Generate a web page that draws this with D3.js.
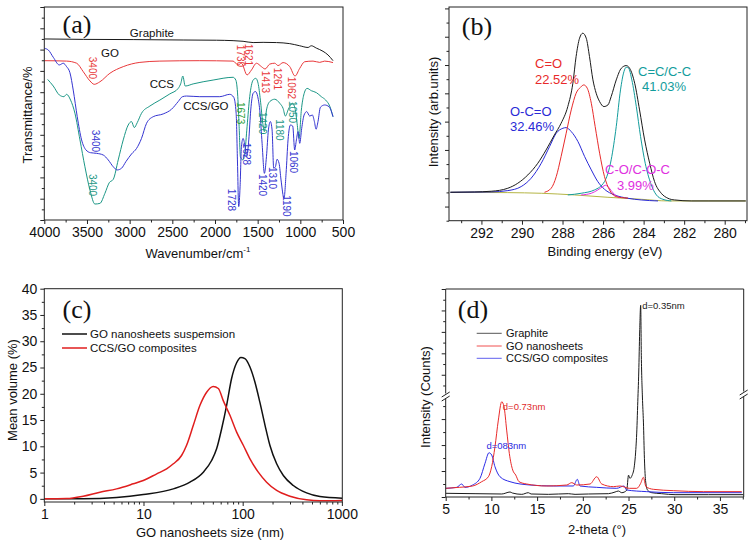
<!DOCTYPE html>
<html><head><meta charset="utf-8">
<script src="https://cdn.jsdelivr.net/npm/d3@7"></script>
<style>
body{margin:0;background:#fff}
svg{display:block}
</style>
</head><body>
<svg id="chart" width="750" height="544"></svg>
<script>
// ---------------- DATA ----------------
// (a) FTIR: [wavenumber cm-1, transmittance (offset, a.u.)]
const ftirGraphite = [[4000,85.0],[3543,84.8],[2958,84.7],[2373,84.5],[1983,84.4],[1788,84.2],[1671,83.9],[1553,83.3],[1436,83.4],[1280,83.3],[1124,82.8],[1007,81.8],[910,81.0],[871,81.8],[812,80.7],[734,79.2],[676,77.5],[617,74.8]];
const ftirGO = [[4000,74.8],[3739,74.6],[3621,73.6],[3543,69.6],[3465,65.3],[3415,63.7],[3348,64.9],[3231,68.9],[3075,72.0],[2880,74.0],[2646,74.6],[2178,74.8],[1788,74.6],[1729,72.8],[1690,73.6],[1624,68.1],[1573,70.4],[1514,73.6],[1456,72.0],[1413,70.9],[1358,73.2],[1300,73.6],[1261,72.5],[1202,73.9],[1124,72.0],[1062,67.6],[1007,71.2],[949,74.3],[851,74.6],[773,74.0],[715,74.6],[617,73.9]];
const ftirCCS = [[3961,66.0],[3895,62.9],[3824,58.7],[3770,57.9],[3739,59.0],[3692,56.3],[3641,50.1],[3582,37.6],[3524,25.0],[3465,14.1],[3407,7.5],[3348,7.8],[3290,12.5],[3239,17.5],[3192,19.1],[3134,28.2],[3075,37.6],[3017,44.6],[2978,46.2],[2946,43.4],[2911,45.7],[2861,50.1],[2763,53.5],[2646,56.3],[2529,59.2],[2431,61.8],[2400,64.2],[2377,67.6],[2349,62.9],[2256,63.9],[2022,65.7],[1788,67.0],[1756,65.7],[1733,57.9],[1717,43.8],[1702,29.7],[1674,28.2],[1651,31.3],[1624,43.8],[1593,57.9],[1553,65.7],[1522,66.5],[1495,64.2],[1468,56.3],[1440,45.4],[1421,41.5],[1397,51.6],[1358,55.6],[1300,56.7],[1241,54.8],[1202,52.4],[1175,48.8],[1140,52.0],[1093,54.8],[1062,52.4],[1038,45.4],[1015,38.3],[988,51.6],[960,58.7],[921,61.8],[871,60.7],[812,59.8],[754,57.9],[703,56.3],[656,53.5],[617,48.5]];
const ftirCCSGO = [[4000,80.6],[3953,79.8],[3895,76.4],[3824,72.8],[3778,73.6],[3739,72.0],[3700,69.2],[3661,61.0],[3614,48.5],[3563,37.6],[3512,32.9],[3458,31.6],[3387,31.3],[3309,30.5],[3251,28.2],[3192,25.0],[3145,23.5],[3095,24.3],[3044,27.4],[2978,31.0],[2919,33.6],[2861,38.3],[2802,45.4],[2724,48.5],[2607,49.8],[2509,52.0],[2431,55.6],[2381,57.9],[2334,58.2],[2178,57.9],[1944,57.9],[1827,59.0],[1780,57.6],[1752,50.1],[1737,28.2],[1722,6.3],[1706,15.6],[1690,34.4],[1671,38.3],[1647,34.4],[1628,29.7],[1604,37.6],[1581,51.6],[1553,59.5],[1526,60.3],[1499,57.9],[1472,50.1],[1448,36.0],[1421,21.9],[1397,29.7],[1374,42.3],[1351,46.2],[1331,42.3],[1312,24.3],[1292,25.0],[1273,28.5],[1249,26.6],[1226,18.8],[1191,10.2],[1167,21.9],[1144,37.6],[1116,44.6],[1089,44.1],[1066,32.9],[1046,37.6],[1027,41.5],[1007,36.0],[984,43.0],[956,49.3],[925,50.9],[890,48.8],[859,49.3],[835,46.2],[816,42.6],[793,46.2],[765,52.9],[715,54.0],[664,53.2],[617,48.5]];
const ftirSeriesNames = ["Graphite","GO","CCS","CCS/GO"];
const ftirNamePos = [[2739,87.8],[3231,78.4],[2622,63.8],[2107,53.5]];
// peak annotations: [text, wavenumber, transmittance, series]
const ftirPeakLabels = [
  ["3400",3430,71.4,"GO"],["1730",1697,77.0,"GO"],["1621",1603,77.5,"GO"],["1413",1404,64.8,"GO"],["1261",1263,66.2,"GO"],["1062",1099,62.0,"GO"],
  ["1673",1697,50.2,"green"],["1420",1439,45.5,"CCS"],["1180",1240,42.3,"CCS"],["1050",1088,50.7,"CCS"],["3400",3441,16.4,"CCS"],
  ["3400",3406,37.1,"CCS/GO"],["1628",1626,31.0,"CCS/GO"],["1728",1802,9.4,"CCS/GO"],["1420",1439,16.4,"CCS/GO"],["1310",1322,19.7,"CCS/GO"],["1190",1158,6.6,"CCS/GO"],["1060",1076,27.2,"CCS/GO"]
];
const ftirXTicks = [4000,3500,3000,2500,2000,1500,1000,500];

// (b) XPS C1s: [binding energy eV, intensity]
const xpsEnvelope = [[293.53,504],[292.35,516],[291.52,540],[290.70,646],[290.21,822],[289.71,1117],[289.22,1529],[288.81,2000],[288.40,2530],[288.07,2943],[287.74,3532],[287.49,4357],[287.33,5300],[287.16,5948],[287.00,6124],[286.83,5948],[286.67,5300],[286.50,4475],[286.34,4003],[286.17,3708],[285.96,3532],[285.76,3590],[285.60,3885],[285.35,4474],[285.10,4886],[284.86,4980],[284.69,4886],[284.44,4357],[284.20,3414],[283.95,2354],[283.70,1529],[283.46,881],[283.13,469],[282.80,292],[282.47,233],[281.65,198],[280.82,198],[278.96,198]];
const xpsCO = [[288.89,504],[288.56,646],[288.31,1058],[288.07,1767],[287.82,2591],[287.57,3414],[287.33,4003],[287.11,4215],[286.95,4297],[286.78,4180],[286.58,3650],[286.39,2826],[286.17,1885],[285.93,1058],[285.68,587],[285.43,375],[285.10,316],[284.77,300]];
const xpsOCO = [[293.53,504],[291.52,516],[290.70,563],[290.04,705],[289.55,999],[289.05,1529],[288.64,2118],[288.31,2591],[287.98,2766],[287.82,2789],[287.57,2648],[287.24,2297],[286.91,1767],[286.58,1295],[286.26,881],[285.93,610],[285.43,410],[284.77,292],[284.12,233],[283.29,198]];
const xpsCC = [[287.74,410],[287.08,469],[286.42,587],[285.93,881],[285.60,1649],[285.35,2826],[285.14,4121],[284.97,4768],[284.86,4921],[284.74,4886],[284.58,4474],[284.36,3532],[284.15,2471],[283.92,1529],[283.65,822],[283.37,410],[283.05,257],[282.63,198]];
const xpsCOC = [[287.08,410],[286.58,469],[286.26,587],[286.01,705],[285.89,752],[285.76,705],[285.56,528],[285.35,375],[285.10,316]];
const xpsBackground = [[293.53,504],[290.70,492],[289.05,469],[287.41,410],[285.76,327],[284.12,257],[282.80,198],[278.96,198]];
const xpsComponentNames = ["C=O","C=C/C-C","O-C=O","C-O/C-O-C"];
const xpsComponentShares = ["22.52%","41.03%","32.46%","3.99%"];
const xpsXTicks = [292,290,288,286,284,282,280];

// (c) DLS: [size nm, mean volume %]
const dlsGO = [[1,0],[2.47,0.0],[5.36,0.25],[9.95,0.83],[19.96,1.90],[29.4,3.17],[40.1,5.08],[48.6,7.30],[54.6,9.52],[61.3,13.3],[68.9,17.8],[77.3,22.9],[86.9,25.9],[96.1,26.9],[105.4,26.7],[118.4,25.1],[133,22.2],[149,18.4],[168,14.0],[188,10.2],[220,6.67],[257,4.44],[324,2.54],[441,1.14],[601,0.44],[1009,0.13]];
const dlsCCSGO = [[1,0],[1.68,0.06],[2.47,0.51],[3.64,1.27],[5.36,1.90],[7.89,2.86],[9.95,3.49],[13.6,4.76],[17.1,5.71],[20,6.67],[24.2,8.25],[27.2,10.2],[31.8,14.0],[37.1,17.8],[43.3,20.3],[50.5,21.4],[56.8,21.0],[63.7,18.7],[74.4,15.9],[86.9,12.7],[101.4,10.2],[118.4,7.62],[143.6,5.08],[174.2,3.17],[220,1.59],[299.5,0.51],[441,-0.19],[601,-0.38],[1009,-0.32]];
const dlsLegend = ["GO nanosheets suspemsion","CCS/GO composites"];
const dlsXTicks = [1,10,100,1000];
const dlsYTicks = [0,5,10,15,20,25,30,35,40];

// (d) XRD: [2-theta deg, counts]
const xrdGraphite = [[5.0,71],[8.21,64],[11.13,58],[12.04,96],[12.29,77],[13.32,51],[14.04,83],[14.34,58],[16.23,51],[18.42,64],[19.15,51],[20.61,58],[22.80,64],[23.53,96],[23.89,115],[24.26,83],[24.80,128],[25.0,420],[25.15,360],[25.4,420],[25.64,600],[25.78,865],[25.93,1378],[26.00,1763],[26.12,4257],[26.22,7988],[26.33,10479],[26.40,5815],[26.52,1925],[26.63,1442],[26.74,737],[26.88,288],[27.10,128],[27.54,83],[28.63,64],[30.09,45],[33.74,45],[37.57,45]];
const xrdGO = [[5.0,167],[6.49,186],[7.95,212],[8.94,295],[9.67,390],[10.03,583],[10.39,967],[10.76,1481],[11.13,1833],[11.38,1737],[11.67,1288],[11.96,840],[12.33,519],[12.66,423],[13.02,295],[13.86,250],[16.05,212],[18.24,231],[18.79,276],[19.33,231],[20.79,250],[21.52,390],[22.07,250],[23.34,199],[24.07,212],[25.09,167],[25.90,167],[26.33,263],[26.62,379],[26.91,199],[27.71,148],[29.90,122],[33.18,103],[37.39,103]];
const xrdCCSGO = [[5.0,167],[6.20,186],[6.75,250],[7.11,186],[7.95,231],[8.75,359],[9.30,648],[9.74,852],[10.03,808],[10.39,583],[10.94,390],[12.03,295],[14.22,231],[16.77,212],[18.96,212],[19.40,340],[19.69,212],[21.52,186],[23.71,167],[24.51,212],[24.80,135],[26.99,103],[29.90,83],[37.39,83]];
const xrdLegend = ["Graphite","GO nanosheets","CCS/GO composites"];
// d-spacing annotations: [text, 2theta, counts]
const xrdPeakLabels = [["d=0.35nm",26.5,10150],["d=0.73nm",11.25,1680],["d=083nm",9.45,930]];
const xrdXTicks = [5,10,15,20,25,30,35];

// ---------------- DRAWING ----------------
const svg = d3.select("#chart");
const SANS = '"Liberation Sans",Arial,sans-serif';
const SERIF = '"Liberation Serif","Times New Roman",serif';
const AX = "#222";
const TICKFS = 14, TITLEFS = 13;

function frame(x0,y0,x1,y1){
  svg.append("rect").attr("x",x0).attr("y",y0).attr("width",x1-x0).attr("height",y1-y0)
    .attr("fill","none").attr("stroke",AX).attr("stroke-width",1);
}
function clip(id,x0,y0,x1,y1){
  svg.append("clipPath").attr("id",id).append("rect").attr("x",x0).attr("y",y0).attr("width",x1-x0).attr("height",y1-y0);
}
function styleAxis(g){
  g.select(".domain").remove();
  g.selectAll("line").attr("stroke",AX);
  g.selectAll("text").style("font-family",SANS).attr("font-size",TICKFS).attr("fill","#111");
}
function xAxis(scale,y,major,minor,fmt,len){
  const g=svg.append("g").attr("transform",`translate(0,${y})`)
    .call(d3.axisBottom(scale).tickValues(major).tickSize(len||4).tickPadding(3).tickFormat(fmt||(d=>d)));
  styleAxis(g);
  if(minor){const m=svg.append("g").attr("transform",`translate(0,${y})`).call(d3.axisBottom(scale).tickValues(minor).tickSize(2.5).tickFormat(""));styleAxis(m);}
  return g;
}
function yAxis(scale,x,major,minor,fmt){
  const g=svg.append("g").attr("transform",`translate(${x},0)`)
    .call(d3.axisLeft(scale).tickValues(major).tickSize(4).tickPadding(3).tickFormat(fmt===undefined?(d=>d):fmt));
  styleAxis(g);
  if(minor){const m=svg.append("g").attr("transform",`translate(${x},0)`).call(d3.axisLeft(scale).tickValues(minor).tickSize(2.5).tickFormat(""));styleAxis(m);}
  return g;
}
function path(data,x,y,color,w,clipId){
  svg.append("path").datum(data).attr("fill","none").attr("stroke",color).attr("stroke-width",w||1)
    .attr("stroke-linejoin","round").attr("clip-path",clipId?`url(#${clipId})`:null)
    .attr("d",d3.line().x(d=>x(d[0])).y(d=>y(d[1])).curve(d3.curveMonotoneX));
}
function txt(x,y,s,opt){
  opt=opt||{};
  const t=svg.append("text").attr("x",x).attr("y",y).text(s)
    .attr("font-size",opt.fs||TITLEFS).attr("fill",opt.color||"#111")
    .attr("text-anchor",opt.anchor||"middle")
    .style("font-family",opt.family||SANS);
  if(opt.rot!==undefined) t.attr("transform",`rotate(${opt.rot},${x},${y})`);
  if(opt.dy) t.attr("dy",opt.dy);
  return t;
}

// ===== Panel (a) =====
{
  const x=d3.scaleLinear().domain([4000,500]).range([44.3,343]);
  const y=d3.scaleLinear().domain([0,100]).range([220,7]);
  clip("ca",44.3,7,343,220);
  const col={"Graphite":"#1a1a1a","GO":"#e8383a","CCS":"#1b9685","CCS/GO":"#3434d0","green":"#2ea03a"};
  path(ftirGraphite,x,y,col["Graphite"],1,"ca");
  path(ftirGO,x,y,col["GO"],1,"ca");
  path(ftirCCS,x,y,col["CCS"],1,"ca");
  path(ftirCCSGO,x,y,col["CCS/GO"],1,"ca");
  frame(44.3,7,343,220);
  xAxis(x,220,ftirXTicks,d3.range(750,4000,500));
  yAxis(y,44.3,d3.range(0,101,10),d3.range(5,100,10),"");
  ftirSeriesNames.forEach((n,i)=>txt(x(ftirNamePos[i][0]),y(ftirNamePos[i][1]),n,{fs:11.5,dy:"0.35em"}));
  ftirPeakLabels.forEach(p=>txt(x(p[1]),y(p[2]),p[0],{fs:10,color:col[p[3]],rot:90,dy:"0.35em"}));
  txt(77,33,"(a)",{fs:26,family:SERIF});
  const t=txt(198,258,"Wavenumber/cm",{fs:TITLEFS});
  t.append("tspan").attr("font-size",8).attr("dy",-6).text("-1");
  txt(27,115,"Transmittance/%",{fs:TITLEFS,rot:-90,dy:"0.35em"});
}

// ===== Panel (b) =====
{
  const x=d3.scaleLinear().domain([293.6,278.9]).range([449,747]);
  const y=d3.scaleLinear().domain([-500,7050]).range([220.7,7]);
  clip("cb",449,7,747,220.7);
  path(xpsBackground,x,y,"#b5b545",1,"cb");
  path(xpsOCO,x,y,"#2a2ad6",1,"cb");
  path(xpsCC,x,y,"#129c9c",1,"cb");
  path(xpsCOC,x,y,"#e030e0",1,"cb");
  path(xpsCO,x,y,"#e82a2a",1,"cb");
  path(xpsEnvelope,x,y,"#1a1a1a",1,"cb");
  frame(449,7,747,220.7);
  xAxis(x,220.7,xpsXTicks,d3.range(279,294,2));
  yAxis(y,449,d3.range(0,7001,1000),d3.range(-500,7001,1000),"");
  const cols=["#e82a2a","#129c9c","#2a2ad6","#e030e0"];
  const pos=[[535,68],[638,76],[510,116],[605,174]];
  const pos2=[[535,84],[642,91],[510,131],[617,190]];
  xpsComponentNames.forEach((n,i)=>{
    txt(pos[i][0],pos[i][1],n,{fs:13,color:cols[i],anchor:"start"});
    txt(pos2[i][0],pos2[i][1],xpsComponentShares[i],{fs:13,color:cols[i],anchor:"start"});
  });
  txt(477,35,"(b)",{fs:26,family:SERIF});
  txt(605,256,"Binding energy (eV)",{fs:TITLEFS});
  txt(433,112,"Intensity (arb.units)",{fs:TITLEFS,rot:-90,dy:"0.35em"});
}

// ===== Panel (c) =====
{
  const x=d3.scaleLog().domain([1,1010]).range([44.3,342.3]);
  const y=d3.scaleLinear().domain([-0.6,40]).range([502,288.7]);
  clip("cc",44.3,288.7,342.3,502);
  path(dlsGO,x,y,"#111",1.5,"cc");
  path(dlsCCSGO,x,y,"#e01e1e",1.5,"cc");
  frame(44.3,288.7,342.3,502);
  const minors=[];[1,10,100].forEach(d=>{for(let k=2;k<10;k++)minors.push(d*k);});
  xAxis(x,502,dlsXTicks,minors);
  yAxis(y,44.3,dlsYTicks,d3.range(2.5,40,5));
  [["#111",334],["#e01e1e",348]].forEach((c,i)=>{
    svg.append("line").attr("x1",62).attr("x2",87).attr("y1",c[1]).attr("y2",c[1]).attr("stroke",c[0]).attr("stroke-width",1.5);
    txt(90,c[1],dlsLegend[i],{fs:11.5,anchor:"start",dy:"0.35em"});
  });
  txt(77,318,"(c)",{fs:26,family:SERIF});
  txt(210,537,"GO nanosheets size (nm)",{fs:TITLEFS});
  txt(12,390,"Mean volume (%)",{fs:TITLEFS,rot:-90,dy:"0.35em"});
}

// ===== Panel (d) =====
{
  const x=d3.scaleLinear().domain([5,37.6]).range([445.7,743.7]);
  const y=d3.scaleLinear().domain([0,1925,12000]).range([497,397,289]);
  const X0=445.7,X1=743.7,Y0=289,Y1=497,BY=396;
  clip("cd",X0,Y0,X1,Y1);
  path(xrdGraphite,x,y,"#1a1a1a",1,"cd");
  path(xrdCCSGO,x,y,"#2a2ae6",1,"cd");
  path(xrdGO,x,y,"#e82a2a",1,"cd");
  const L=(a,b,c,d)=>svg.append("line").attr("x1",a).attr("y1",b).attr("x2",c).attr("y2",d).attr("stroke",AX).attr("stroke-width",1);
  L(X0,Y0,X1,Y0); L(X0,Y1,X1,Y1);
  L(X0,Y0,X0,BY-2.5); L(X0,BY+2.5,X0,Y1);
  L(X1,Y0,X1,BY-4.5); L(X1,BY+0.5,X1,Y1);
  [[X0,BY],[X1,BY-2]].forEach(p=>{
    L(p[0]-4,p[1]+1,p[0]+4,p[1]-4);
    L(p[0]-4,p[1]+5,p[0]+4,p[1]);
  });
  xAxis(x,Y1,xrdXTicks,d3.range(7.5,37.6,5));
  yAxis(y,X0,[0,500,1000,1500,4000,6000,8000,10000,12000],[250,750,1250,1750,3000,5000,7000,9000,11000],"");
  [["#555",333.3],["#f05050",346],["#6060ee",358.3]].forEach((c,i)=>{
    svg.append("line").attr("x1",476.7).attr("x2",501.7).attr("y1",c[1]).attr("y2",c[1]).attr("stroke",c[0]).attr("stroke-width",1);
    txt(506,c[1],xrdLegend[i],{fs:11,anchor:"start",dy:"0.35em"});
  });
  const lc=["#222","#e02a2a","#2a2ae0"];
  xrdPeakLabels.forEach((p,i)=>txt(x(p[1]),y(p[2]),p[0],{fs:9.5,anchor:"start",color:lc[i]}));
  txt(473,318,"(d)",{fs:26,family:SERIF});
  txt(597,534,"2-theta (°)",{fs:TITLEFS});
  txt(425,397,"Intensity (Counts)",{fs:TITLEFS,rot:-90,dy:"0.35em"});
}
</script>
</body></html>
